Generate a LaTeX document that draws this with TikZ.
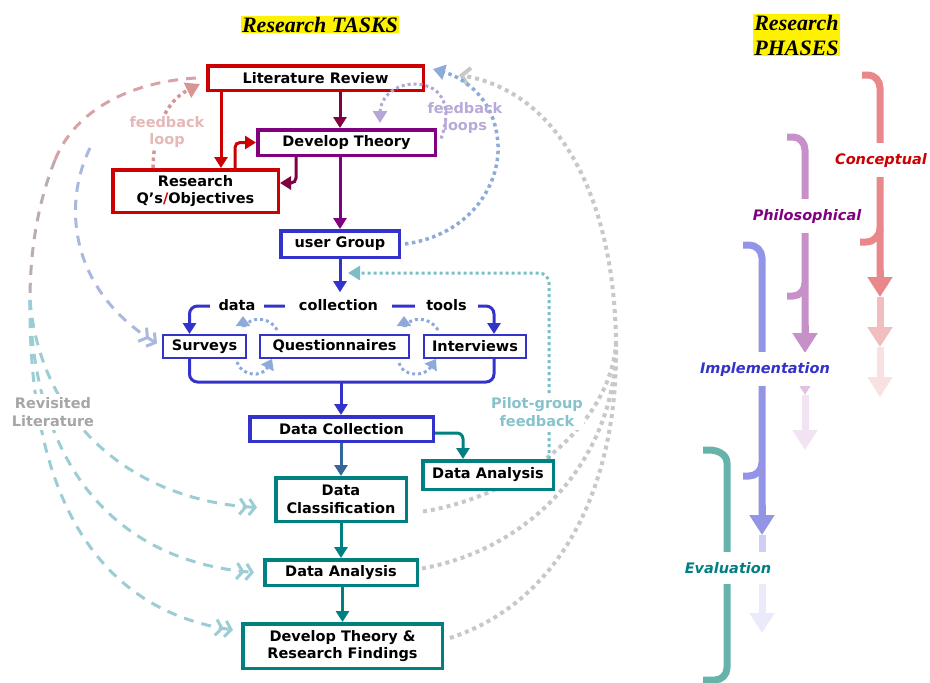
\documentclass[tikz,border=0pt]{standalone}
\usepackage{fontspec}
\usetikzlibrary{arrows.meta,calc}
\pgfdeclarelayer{bg}
\pgfsetlayers{bg,main}
\newfontfamily\dv{DejaVu Sans}[ItalicFont={DejaVu Sans Oblique},BoldItalicFont={DejaVu Sans Bold Oblique}]
\newfontfamily\tnr{Liberation Serif}
\definecolor{cred}{HTML}{CC0000}
\definecolor{cmaroon}{HTML}{800040}
\definecolor{cpurple}{HTML}{800080}
\definecolor{cblue}{HTML}{3333CC}
\definecolor{cteal}{HTML}{008080}
\definecolor{csteel}{HTML}{336699}
\definecolor{dotblue}{HTML}{8EAADB}
\definecolor{lav}{HTML}{B4A7D6}
\definecolor{lavtxt}{HTML}{B8AAD8}
\definecolor{pinkdot}{HTML}{D99594}
\definecolor{pinktxt}{HTML}{E6B8B7}
\definecolor{greyc}{HTML}{C8C8C8}
\definecolor{pilot}{HTML}{7BBEC8}
\definecolor{pilottxt}{HTML}{86C3CC}
\definecolor{revtxt}{HTML}{A6A6A6}
\definecolor{dashteal}{HTML}{9CCDD5}
\definecolor{dashpink}{HTML}{D8A3A8}
\definecolor{dashmauve}{HTML}{BCAAB8}
\definecolor{dashblue}{HTML}{A9B8DE}
\definecolor{phred}{HTML}{E8888A}
\definecolor{phpurp}{HTML}{C890C8}
\definecolor{phblue}{HTML}{9494E6}
\definecolor{phteal}{HTML}{66B3AB}
\tikzset{
  box/.style={draw, line width=3.5pt, fill=white, inner sep=0pt, align=center,
    font=\dv\bfseries\fontsize{14.5}{17.5}\selectfont, text=black},
  thinbox/.style={box, line width=2pt},
  arr/.style={line width=3pt, -{Triangle[length=11pt,width=13pt]}},
  barr/.style={line width=3pt},
  lbl/.style={fill=white, inner ysep=2pt, font=\dv\bfseries\fontsize{14.5}{17.5}\selectfont, text=black},
  note/.style={align=center, inner sep=1pt, font=\dv\bfseries\fontsize{14.5}{17.5}\selectfont},
  dotb/.style={line width=3pt, dash pattern=on 3pt off 3pt, color=dotblue},
  tinyhead/.style={-{Triangle[length=10pt,width=14pt]}},
  greydot/.style={line width=4pt, dash pattern=on 4pt off 4pt, color=greyc},
  ldash/.style={line width=3pt, dash pattern=on 10pt off 8pt},
  dchev/.style={-{Straight Barb[length=6pt,width=16pt] Straight Barb[length=6pt,width=16pt]}},
  ph/.style={line width=7pt},
  phhead/.style={-{Triangle[length=20pt,width=24pt]}},
  phtxt/.style={fill=white, inner xsep=1pt, inner ysep=10pt, font=\dv\bfseries\itshape\fontsize{14.5}{17.5}\selectfont},
  title/.style={fill=yellow, inner sep=1pt, align=left, font=\tnr\bfseries\itshape\fontsize{22}{25}\selectfont}
}
\begin{document}
\begin{tikzpicture}[x=1pt,y=-1pt]
\useasboundingbox (0,0) rectangle (930,683);

% titles
\node[title] (ttasks) at (320,24.5) {Research TASKS};
\node[title] (tphases) at (796.5,35) {Research\\PHASES};

% ---------- phases ----------
% Conceptual
\draw[ph, phred] (862,75) -- (868,75) to[out=0,in=90] (880,88) -- (880,280);
\draw[ph, phred] (860,242) -- (866,242) to[out=0,in=-90] (880,228);
\draw[ph, phred, phhead] (880,270) -- (880,297);
\draw[ph, phred!55!white, phhead] (880,297) -- (880,347);
\draw[ph, phred!25!white, phhead] (880,347) -- (880,397);
% Philosophical
\draw[ph, phpurp] (787,137) -- (793,137) to[out=0,in=90] (805,150) -- (805,335);
\draw[ph, phpurp] (787,296) -- (793,296) to[out=0,in=-90] (805,283);
\draw[ph, phpurp, phhead] (805,325) -- (805,353);
\draw[ph, phpurp!55!white, phhead] (805,353) -- (805,395);
\draw[ph, phpurp!25!white, phhead] (805,395) -- (805,450);
% Implementation
\draw[ph, phblue] (743,245) -- (749,245) to[out=0,in=90] (762,258) -- (762,520);
\draw[ph, phblue] (743,476) -- (749,476) to[out=0,in=-90] (762,463);
\draw[ph, phblue, phhead] (762,505) -- (762,535);
\draw[ph, phblue!45!white] (762,535) -- (762,560);
\draw[ph, phblue!20!white, phhead] (762,580) -- (762,633);
% Evaluation
\draw[ph, phteal] (703,450) -- (709,450) to[out=0,in=90] (727,463) -- (727,668) to[out=-90,in=0] (715,680) -- (703,680);

\node[phtxt, text=cred] (pcon) at (881,160) {Conceptual};
\node[phtxt, text=cpurple] (pphi) at (807,216) {Philosophical};
\node[phtxt, text=cblue] (pimp) at (765,369) {Implementation};
\node[phtxt, text=cteal] (peva) at (728,568) {Evaluation};

% ---------- nodes ----------
\node[box, draw=cred, minimum width=215.5pt, minimum height=24.5pt] (lit) at (315.5,78) {Literature Review};
\node[box, draw=cpurple, minimum width=177.5pt, minimum height=25.5pt] (dev) at (346.5,142.5) {Develop Theory};
\node[box, draw=cred, minimum width=165.5pt, minimum height=42.5pt] (rq) at (195.5,191) {Research\\Q’s{\color{cred}/}Objectives};
\node[box, draw=cblue, minimum width=118.5pt, minimum height=26.5pt] (ug) at (340,244) {user Group};
\node[thinbox, draw=cblue, minimum width=83pt, minimum height=23pt] (sv) at (204.5,346.5) {Surveys};
\node[thinbox, draw=cblue, minimum width=149pt, minimum height=23pt] (qn) at (334.5,346.5) {Questionnaires};
\node[thinbox, draw=cblue, minimum width=102pt, minimum height=23pt] (iv) at (475,346.5) {Interviews};
\node[box, draw=cblue, minimum width=183.5pt, minimum height=24.5pt] (dc) at (341.5,429) {Data Collection};
\node[box, draw=cteal, minimum width=130.5pt, minimum height=28.5pt] (dar) at (488,475) {Data Analysis};
\node[box, draw=cteal, minimum width=130.5pt, minimum height=43.5pt] (cls) at (341,499.5) {Data\\Classification};
\node[box, draw=cteal, minimum width=152.5pt, minimum height=25.5pt] (dal) at (341,572.5) {Data Analysis};
\node[box, draw=cteal, minimum width=199.5pt, minimum height=44.5pt] (fin) at (342.5,646) {Develop Theory \&\\Research Findings};

% ---------- grey dotted return curves (behind the boxes) ----------
\coordinate (gj) at (616,345);
\begin{pgfonlayer}{bg}
\draw[greydot] ([xshift=15pt,yshift=-12pt]cls.east) .. controls (515,497) and (608,430) .. (gj);
\draw[greydot] ([xshift=3pt,yshift=4pt]dal.east) .. controls (535,548) and (616,455) .. (gj);
\draw[greydot] ([xshift=6pt,yshift=8pt]fin.east) .. controls (565,600) and (618,480) .. (gj);
\draw[greydot, -{Straight Barb[length=8pt,width=18pt]}] (gj) .. controls (615,200) and (560,92) .. ([xshift=34pt,yshift=-11pt]lit.north east);
\end{pgfonlayer}

% ---------- left dashed "revisited literature" curves ----------
\coordinate (ra) at (55,160);
\coordinate (rb) at (30,300);
\draw[ldash, dashpink] ([xshift=-10pt]lit.west) .. controls (130,82) and (75,110) .. (ra);
\draw[ldash, dashmauve] (ra) .. controls (35,210) and (30,260) .. (rb);
\draw[ldash, dashteal, dchev] (rb) .. controls (40,420) and (130,500) .. ([xshift=-17pt,yshift=-8pt]cls.west);
\draw[ldash, dashteal, dchev] (rb) .. controls (33,460) and (110,560) .. ([xshift=-9pt]dal.west);
\draw[ldash, dashteal, dchev] (rb) .. controls (28,500) and (100,610) .. ([xshift=-8pt,yshift=16pt]fin.west);
\coordinate (bstart) at (90,148);
\draw[ldash, dashblue, dchev] (bstart) .. controls (62,205) and (70,290) .. ([xshift=-5pt,yshift=3pt]sv.west);

% ---------- feedback loops ----------
\draw[line width=3.5pt, dash pattern=on 3.5pt off 3.5pt, pinkdot, -{Triangle[length=14pt,width=16pt]}]
  ([xshift=42pt]rq.north west) .. controls (154,120) and (172,98) .. ([xshift=-6pt,yshift=-6pt]lit.west);
\node[note, fill=white, text=pinktxt] (fbl) at (167,132) {feedback\\loop};

\draw[dotb, line width=3.5pt, dash pattern=on 3.5pt off 3.5pt, -{Triangle[length=12pt,width=15pt]}]
  ([xshift=4pt]ug.east) .. controls (470,235) and (500,185) .. (498,145)
  .. controls (496,100) and (465,78) .. ([xshift=8pt,yshift=-5pt]lit.north east);
\draw[line width=3pt, dash pattern=on 3pt off 3pt, lav, -{Triangle[length=12pt,width=14pt]}]
  ([xshift=4pt,yshift=4pt]dev.east) .. controls (452,110) and (445,85) .. (415,84)
  .. controls (392,84) and (380,100) .. ([xshift=33.5pt,yshift=5pt]dev.north);
\node[note, text=lavtxt] (fbls) at (465,118) {feedback\\loops};

% pilot group feedback
\coordinate (pend) at (348,273);
\draw[line width=3pt, dash pattern=on 3pt off 3pt, pilot, rounded corners=10pt, -{Triangle[length=12pt,width=14pt]}]
  ([xshift=-6pt]dar.north east) |- (pend);
\node[note, fill=white, inner ysep=4pt, text=pilottxt] (pgf) at (537,412) {Pilot-group\\feedback};
\node[note, fill=white, inner ysep=4pt, text=revtxt] (rev) at (53,412) {Revisited\\Literature};

% ---------- solid task arrows ----------
\draw[arr, cmaroon] (lit.south -| ug.north) -- (dev.north -| ug.north);
\draw[arr, cred] ([xshift=15pt]lit.south west) -- ([xshift=15pt]lit.south west |- rq.north);
\draw[arr, cred, rounded corners=5pt] ([xshift=124pt]rq.north west) |- (dev.west);
\draw[arr, cmaroon, rounded corners=5pt] ([xshift=40pt]dev.south west) |- ([yshift=8pt]rq.east);
\draw[arr, cpurple] (dev.south -| ug.north) -- (ug.north);

% data collection tools bus
\coordinate (busT) at (341,306);
\draw[barr, cblue, rounded corners=8pt, {Triangle[length=11pt,width=13pt]}-{Triangle[length=11pt,width=13pt]}]
  ([xshift=-15pt]sv.north) |- (busT) -| ([xshift=19pt]iv.north);
\node[lbl, inner xsep=9pt] (ldata) at (237,305) {data};
\node[lbl, inner xsep=14pt, inner ysep=7pt] (lcol) at (338.5,305) {collection};
\node[lbl, inner xsep=11pt] (ltools) at (446.5,305) {tools};
\draw[arr, cblue] (ug.south) -- (ug.south |- lcol.north);

\coordinate (busB) at (341,382);
\draw[barr, cblue, rounded corners=8pt] ([xshift=-15pt]sv.south) |- (busB) -| ([xshift=19pt]iv.south);
\draw[arr, cblue] (busB) -- (busB |- dc.north);

% tool feedback dotted arrows
\draw[dotb, tinyhead] ([xshift=18pt,yshift=4pt]qn.north west) .. controls (270,316) and (250,316) .. ([xshift=-4pt,yshift=6pt]sv.north east) -- ([xshift=-4pt,yshift=18pt]sv.north east);
\draw[dotb, tinyhead] ([xshift=-10pt,yshift=-3pt]sv.south east) .. controls (241,376) and (262,378) .. ([xshift=13pt]qn.south west);
\draw[dotb, tinyhead] ([xshift=15pt,yshift=4pt]iv.north west) .. controls (430,316) and (410,316) .. ([xshift=-6pt,yshift=6pt]qn.north east) -- ([xshift=-6pt,yshift=18pt]qn.north east);
\draw[dotb, tinyhead] ([xshift=-11pt,yshift=-4pt]qn.south east) .. controls (402,376) and (424,378) .. ([xshift=13pt]iv.south west);

% lower arrows
\draw[arr, csteel] (dc.south -| cls.north) -- (cls.north);
\draw[arr, cteal, rounded corners=6pt] ([yshift=-4pt]dc.east) -| ([xshift=-25pt]dar.north);
\draw[arr, cteal] (cls.south) -- (dal.north);
\draw[arr, cteal] (dal.south -| fin.north) -- (fin.north);
\end{tikzpicture}
\end{document}
